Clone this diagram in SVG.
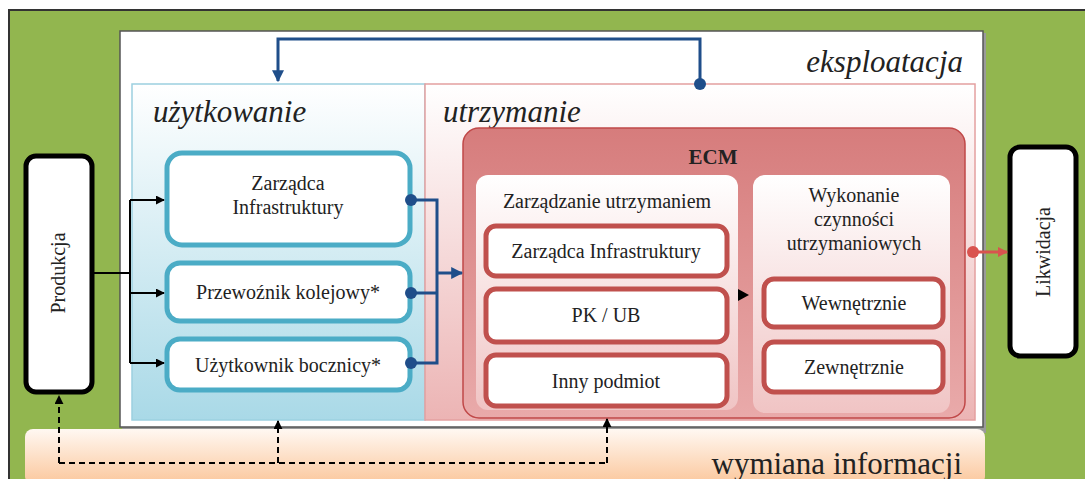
<svg xmlns="http://www.w3.org/2000/svg" width="1085" height="479" viewBox="0 0 1085 479" font-family="'Liberation Serif', 'DejaVu Serif', serif">
<defs>
<linearGradient id="gBlue" x1="0" y1="0" x2="0" y2="1"><stop offset="0" stop-color="#ffffff"/><stop offset="1" stop-color="#a9d9e7"/></linearGradient>
<linearGradient id="gPink" x1="0" y1="0" x2="0" y2="1"><stop offset="0" stop-color="#ffffff"/><stop offset="1" stop-color="#ecb4b4"/></linearGradient>
<linearGradient id="gEcm" x1="0" y1="0" x2="0" y2="1"><stop offset="0" stop-color="#d67c7c"/><stop offset="1" stop-color="#e9aaaa"/></linearGradient>
<linearGradient id="gSub" x1="0" y1="0" x2="0" y2="1"><stop offset="0" stop-color="#ffffff"/><stop offset="1" stop-color="#f0c4c4"/></linearGradient>
<linearGradient id="gPeach" x1="0" y1="0" x2="0" y2="1"><stop offset="0" stop-color="#fff8f2"/><stop offset="1" stop-color="#fbc79c"/></linearGradient>
<marker id="aBlk" viewBox="0 0 10 10" refX="9" refY="5" markerWidth="9" markerHeight="9" markerUnits="userSpaceOnUse" orient="auto"><path d="M0,0 L10,5 L0,10 z" fill="#000"/></marker>
<marker id="aBlue" viewBox="0 0 10 10" refX="9" refY="5" markerWidth="12" markerHeight="12" markerUnits="userSpaceOnUse" orient="auto"><path d="M0,0 L10,5 L0,10 z" fill="#1f4e8a"/></marker>
<marker id="aRed" viewBox="0 0 10 10" refX="9" refY="5" markerWidth="10" markerHeight="10" markerUnits="userSpaceOnUse" orient="auto"><path d="M0,0 L10,5 L0,10 z" fill="#d9534f"/></marker>
</defs>
<style>
text{font-family:'Liberation Serif','DejaVu Serif',serif;fill:#222}
.n{font-size:20px;text-anchor:middle}
.h{font-size:31px;font-style:italic}
.bl{fill:#fff;stroke:#4bacc6;stroke-width:5}
.rd{fill:#fff;stroke:#c0504d;stroke-width:5}
.bk{fill:#fff;stroke:#000;stroke-width:5}
.c{fill:none;stroke:#000;stroke-width:2}
.cb{fill:none;stroke:#1f4e8a;stroke-width:3}
.dot{fill:#1f4e8a}
.ds{fill:none;stroke:#000;stroke-width:2;stroke-dasharray:6 4}
</style>
<rect x="0" y="0" width="1085" height="479" fill="#fff"/>
<rect x="9" y="10" width="1080" height="475" fill="#92b64f" stroke="#333" stroke-width="2"/>
<g id="eksploatacja">
<rect x="122" y="33" width="864" height="400" fill="#9a9a9a"/>
<rect x="120" y="31" width="863" height="396" fill="#fff" stroke="#555" stroke-width="1.5"/>
<text class="h" x="963" y="72" text-anchor="end">eksploatacja</text>
</g>
<g id="uzytkowanie">
<rect x="132" y="84" width="293" height="336" fill="url(#gBlue)" stroke="#9cd0e0" stroke-width="1.5"/>
<text class="h" x="153" y="122">użytkowanie</text>
</g>
<g id="utrzymanie">
<rect x="425" y="84" width="550" height="336" fill="url(#gPink)" stroke="#e4a0a0" stroke-width="1.5"/>
<text class="h" x="443" y="122">utrzymanie</text>
</g>
<g id="ecm">
<rect x="463" y="128" width="502" height="290" rx="16" fill="url(#gEcm)" stroke="#c04848" stroke-width="1.5"/>
<text x="713" y="164" font-size="21" font-weight="bold" text-anchor="middle">ECM</text>
</g>
<g id="zarzadzanie">
<rect x="476" y="175" width="262" height="235" rx="12" fill="url(#gSub)"/>
<text class="n" x="607" y="208">Zarządzanie utrzymaniem</text>
</g>
<g id="wykonanie">
<rect x="753" y="175" width="197" height="238" rx="12" fill="url(#gSub)"/>
<text class="n" x="854" y="202">Wykonanie</text>
<text class="n" x="854" y="226">czynności</text>
<text class="n" x="854" y="250">utrzymaniowych</text>
</g>
<g id="wymiana">
<rect x="25" y="429" width="960" height="55" rx="8" fill="url(#gPeach)"/>
<text x="962" y="474" font-size="31" text-anchor="end">wymiana informacji</text>
</g>
<g id="produkcja">
<rect class="bk" x="26" y="156" width="66" height="236" rx="10"/>
<text class="n" transform="translate(65,273) rotate(-90)">Produkcja</text>
</g>
<g id="likwidacja">
<rect class="bk" x="1010" y="147" width="66" height="209" rx="10"/>
<text class="n" transform="translate(1050,252) rotate(-90)">Likwidacja</text>
</g>
<g id="zi-left">
<rect class="bl" x="167" y="153" width="243" height="92" rx="15"/>
<text class="n" x="288" y="190">Zarządca</text>
<text class="n" x="288" y="214">Infrastruktury</text>
</g>
<g id="przewoznik">
<rect class="bl" x="167" y="263" width="243" height="58" rx="13"/>
<text class="n" x="288" y="299">Przewoźnik kolejowy*</text>
</g>
<g id="uzytkownik">
<rect class="bl" x="167" y="339" width="243" height="51" rx="13"/>
<text class="n" x="288" y="372">Użytkownik bocznicy*</text>
</g>
<g id="zi-right">
<rect class="rd" x="486" y="226" width="241" height="50" rx="10"/>
<text class="n" x="606" y="258">Zarządca Infrastruktury</text>
</g>
<g id="pkub">
<rect class="rd" x="486" y="289" width="241" height="53" rx="10"/>
<text class="n" x="606" y="322">PK / UB</text>
</g>
<g id="inny">
<rect class="rd" x="486" y="355" width="241" height="51" rx="10"/>
<text class="n" x="606" y="388">Inny podmiot</text>
</g>
<g id="wewnetrznie">
<rect class="rd" x="764" y="279" width="179" height="48" rx="10"/>
<text class="n" x="854" y="310">Wewnętrznie</text>
</g>
<g id="zewnetrznie">
<rect class="rd" x="764" y="342" width="179" height="50" rx="10"/>
<text class="n" x="854" y="374">Zewnętrznie</text>
</g>
<g id="connectors">
<path class="c" d="M92,273 H130"/>
<path class="c" d="M130,200 V363"/>
<path class="c" d="M130,200 H164" marker-end="url(#aBlk)"/>
<path class="c" d="M130,293 H164" marker-end="url(#aBlk)"/>
<path class="c" d="M130,363 H164" marker-end="url(#aBlk)"/>
<path class="cb" d="M411,200 H437 V363 H411 M411,293 H437"/>
<path class="cb" d="M437,273 H462" marker-end="url(#aBlue)"/>
<circle class="dot" cx="411" cy="200" r="6"/>
<circle class="dot" cx="411" cy="293" r="6"/>
<circle class="dot" cx="411" cy="363" r="6"/>
<path class="cb" d="M700,84 V39 H278 V81" marker-end="url(#aBlue)"/>
<circle class="dot" cx="700" cy="84" r="6"/>
<path d="M738,289 L749,295 L738,301 z" fill="#000"/>
<path fill="none" stroke="#d9534f" stroke-width="3" d="M973,252 H1007" marker-end="url(#aRed)"/>
<circle cx="973" cy="252" r="6" fill="#d9534f"/>
<path class="ds" d="M59,463 H607"/>
<path class="ds" d="M59,463 V396" marker-end="url(#aBlk)"/>
<path class="ds" d="M278,463 V421" marker-end="url(#aBlk)"/>
<path class="ds" d="M607,463 V419" marker-end="url(#aBlk)"/>
</g>
</svg>
